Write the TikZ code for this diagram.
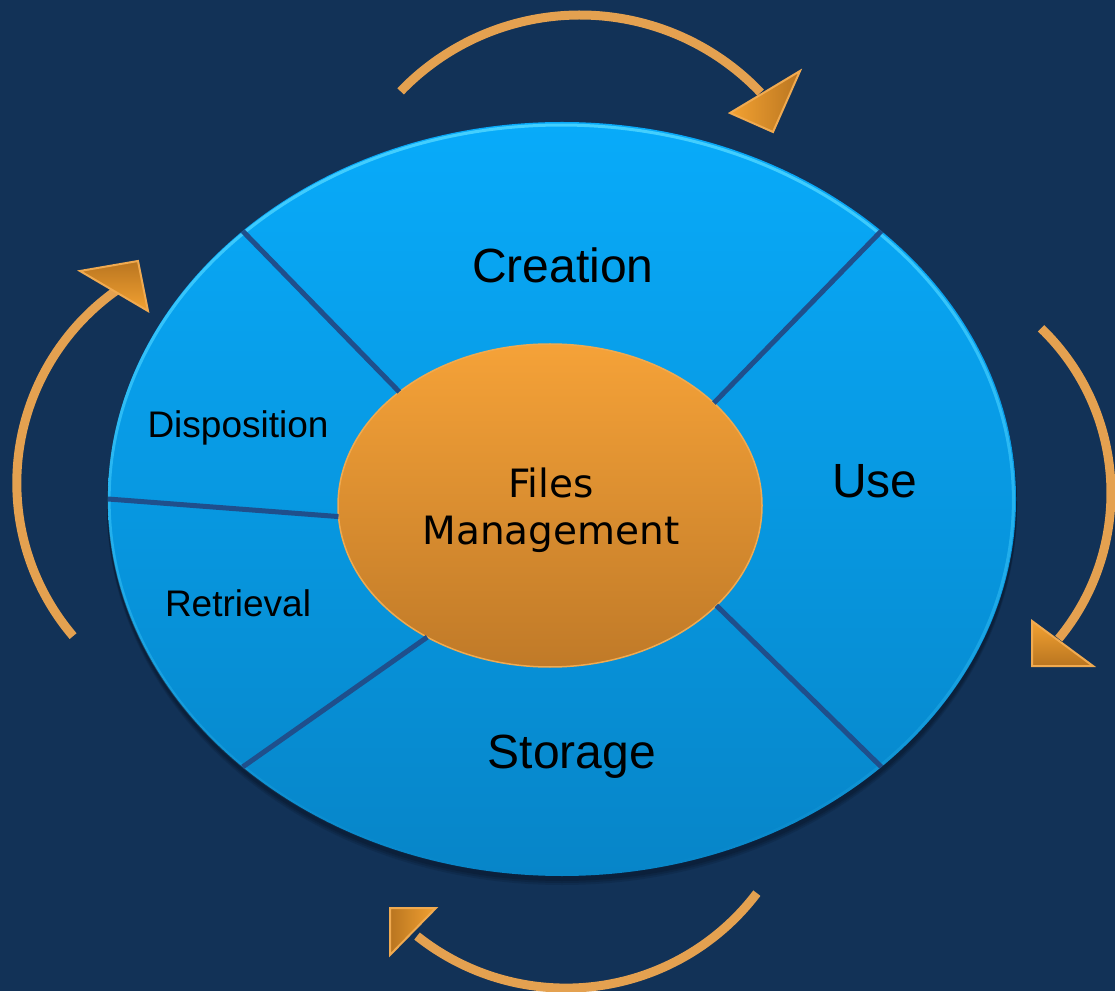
\documentclass[tikz,border=0pt]{standalone}
\usepackage{fontspec}
\setmainfont{Liberation Sans}
\newfontfamily\hubfont{DejaVu Sans}
\usetikzlibrary{shapes.geometric,fadings}

\definecolor{bgnavy}{HTML}{123257}
\definecolor{ringtop}{HTML}{08ABFA}
\definecolor{ringbot}{HTML}{0785C8}
\definecolor{ringrim}{HTML}{45D0FF}
\definecolor{hubtop}{HTML}{F5A238}
\definecolor{hubbot}{HTML}{C07A28}
\definecolor{hubrim}{HTML}{F0AA50}
\definecolor{divider}{HTML}{1F4F8C}
\definecolor{arcorange}{HTML}{E4A150}
\definecolor{headlight}{HTML}{F3A232}
\definecolor{headdark}{HTML}{B97520}
\definecolor{shadowc}{HTML}{0A1C34}

\begin{document}
\begin{tikzpicture}[x=1pt,y=1pt,
  divline/.style={draw=divider, line width=5pt},
  cyclearc/.style={draw=arcorange, line width=9pt},
  arrowhead/.style={draw=hubrim, line width=2pt, line join=miter},
  biglabel/.style={anchor=base, font=\fontsize{48}{56}\selectfont, inner sep=0pt},
  smalllabel/.style={anchor=base, font=\fontsize{37}{44}\selectfont, inner sep=0pt},
]
\useasboundingbox (0,0) rectangle (1115,991);
\fill[bgnavy] (0,0) rectangle (1115,991);

% soft drop shadow under the ring
\foreach \d/\o in {8/0.25,6/0.35,4/0.5}{
  \fill[shadowc, opacity=\o] (562,492-\d) ellipse[x radius=455pt, y radius=378pt];
}

% outer ring of lifecycle stages
\node[ellipse, minimum width=908pt, minimum height=754pt, inner sep=0pt, outer sep=0pt,
      top color=ringtop, bottom color=ringbot] (ring) at (562,492) {};
\draw[ringrim, line width=3pt, path fading=south] (562,492) ellipse[x radius=452.5pt, y radius=375.5pt];

% central hub
\node[ellipse, minimum width=424pt, minimum height=323pt, inner sep=0pt, outer sep=0pt,
      top color=hubtop, bottom color=hubbot, draw=hubrim, line width=1.5pt] (hub) at (550,485.5) {};

% sector dividers
\draw[divline] (ring.140) -- (hub.143);
\draw[divline] (ring.40) -- (hub.32);
\draw[divline] (ring.180) -- (hub.183);
\draw[divline] (ring.220) -- (hub.227);
\draw[divline] (ring.320) -- (hub.329);

% stage labels
\node[biglabel] (creation) at (563,708) {Creation};
\node[biglabel] (use) at (875,493) {Use};
\node[biglabel] (storage) at (572,223) {Storage};
\node[smalllabel] (disposition) at (238,553) {Disposition};
\node[smalllabel] (retrieval) at (238,374) {Retrieval};
\node[anchor=base, align=center, inner sep=0pt, font=\hubfont\fontsize{39}{47}\selectfont] (files) at (551,446) {Files\\Management};

% clockwise cycle arrows
\draw[cyclearc] (580,727) ++(136.1:249pt) arc[start angle=136.1, end angle=43.5, radius=249pt];
\draw[cyclearc] (882,498) ++(46:229pt) arc[start angle=46, end angle=-39.5, radius=229pt];
\draw[cyclearc] (566,242.2) ++(-37.1:239.3pt) arc[start angle=-37.1, end angle=-128.5, radius=239.3pt];
\draw[cyclearc] (252.9,507.9) ++(220.4:236.1pt) arc[start angle=220.4, end angle=125.1, radius=236.1pt];

% arrow heads
\draw[arrowhead, left color=headlight, right color=headdark] (730,878) -- (800,920) -- (773,859) -- cycle;
\draw[arrowhead, top color=headlight, bottom color=headdark] (1032,370) -- (1032,325) -- (1093,325) -- cycle;
\draw[arrowhead, left color=headdark, right color=headlight] (390,83) -- (436,83) -- (390,36) -- cycle;
\draw[arrowhead, top color=headdark, bottom color=headlight] (80,720) -- (138,730) -- (148,680) -- cycle;
\end{tikzpicture}
\end{document}
